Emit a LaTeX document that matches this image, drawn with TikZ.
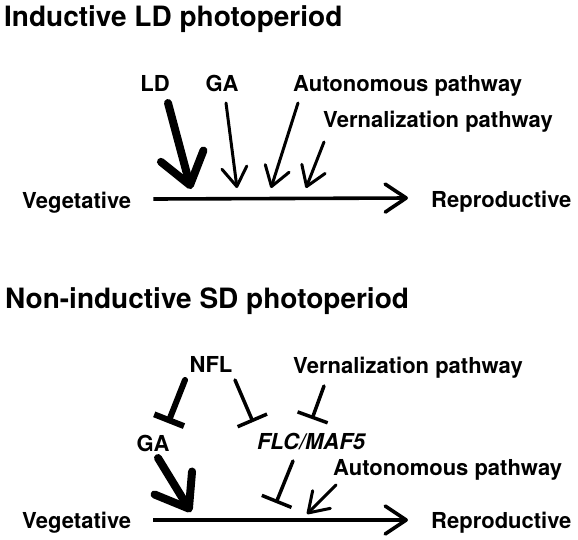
\documentclass[tikz,border=0pt]{standalone}
\usepackage{fontspec}
\setmainfont{TeX Gyre Heros}
\usetikzlibrary{arrows.meta}

\begin{document}
\begin{tikzpicture}[x=1pt,y=-1pt,
  ttl/.style={anchor=base west,inner sep=0pt,font=\fontsize{28}{30}\selectfont\bfseries},
  lbl/.style={anchor=base,inner sep=0pt,font=\fontsize{22}{24}\selectfont\bfseries},
  axis/.style={line width=3.6pt,-{Straight Barb[length=21pt,width=28pt,round]}},
  act/.style={line width=3pt,line cap=round,-{Straight Barb[length=19pt,width=25pt,round]}},
  actbig/.style={line width=8pt,line cap=round,-{Straight Barb[length=30pt,width=44pt,round]}},
  inh/.style={line width=3.5pt,line cap=round,-{Bar[width=32pt]}},
  inhbig/.style={line width=6pt,line cap=round,-{Bar[width=32pt]}}]
\useasboundingbox (0,0) rectangle (578,539);
% Inductive LD photoperiod
\node[ttl] (ttlLD) at (4,26) {Inductive LD photoperiod};
\node[lbl] (ld) at (155,91) {LD};
\node[lbl] (gaLD) at (222,91) {GA};
\node[lbl,anchor=base west] (autLD) at (293,91) {Autonomous pathway};
\node[lbl,anchor=base west] (verLD) at (323,127) {Vernalization pathway};
\node[lbl,anchor=base west] (vegLD) at (22,208) {Vegetative};
\node[lbl,anchor=base west] (repLD) at (431,207) {Reproductive};
% Tips resting on the axis
\coordinate (tipLD) at (191,189);
\coordinate (tipGA) at (237,188);
\coordinate (tipAut) at (271,188);
\coordinate (tipVer) at (306,188);
% Draw axis and the promoting arrows
\draw[axis] (vegLD.base east) ++(22,-9) -- ([shift={(-23,-9)}]repLD.base west);
\draw[actbig] (ld.base) ++(13,12) -- (tipLD);
\draw[act] (gaLD.base) ++(4,12) -- (tipGA);
\draw[act] (autLD.base west) ++(5,12) -- (tipAut);
\draw[act] (verLD.base west) ++(1,15) -- (tipVer);
% Non-inductive SD photoperiod
\node[ttl] (ttlSD) at (5,308) {Non-inductive SD photoperiod};
\node[lbl] (nfl) at (211,372) {NFL};
\node[lbl,anchor=base west] (verSD) at (293,373) {Vernalization pathway};
\node[lbl] (gaSD) at (153,451) {GA};
\node[lbl] (flc) at (311,449) {\itshape FLC/MAF5};
\node[lbl,anchor=base west] (autSD) at (333,475) {Autonomous pathway};
\node[lbl,anchor=base west] (vegSD) at (22,528) {Vegetative};
\node[lbl,anchor=base west] (repSD) at (431,528) {Reproductive};
% Tips and bars resting on the axis
\coordinate (tipGA2) at (191,512);
\coordinate (barFLC) at (276,503);
\coordinate (tipAut2) at (307,514);
% Draw repression by NFL and vernalization
\draw[inhbig] (nfl.base) ++(-26,8) -- ([shift={(15,-28)}]gaSD.base);
\draw[inh] (nfl.base) ++(24,8) -- ([shift={(-58,-27)}]flc.base);
\draw[inh] (verSD.base west) ++(31,13) -- ([shift={(1,-30)}]flc.base);
% Draw axis with its inputs
\draw[axis] (vegSD.base east) ++(22,-8) -- ([shift={(-23,-8)}]repSD.base west);
\draw[actbig] (gaSD.base) ++(5,7) -- (tipGA2);
\draw[inh] (flc.base) ++(-18,12) -- (barFLC);
\draw[act] (autSD.base west) ++(3,10) -- (tipAut2);
\end{tikzpicture}
\end{document}
